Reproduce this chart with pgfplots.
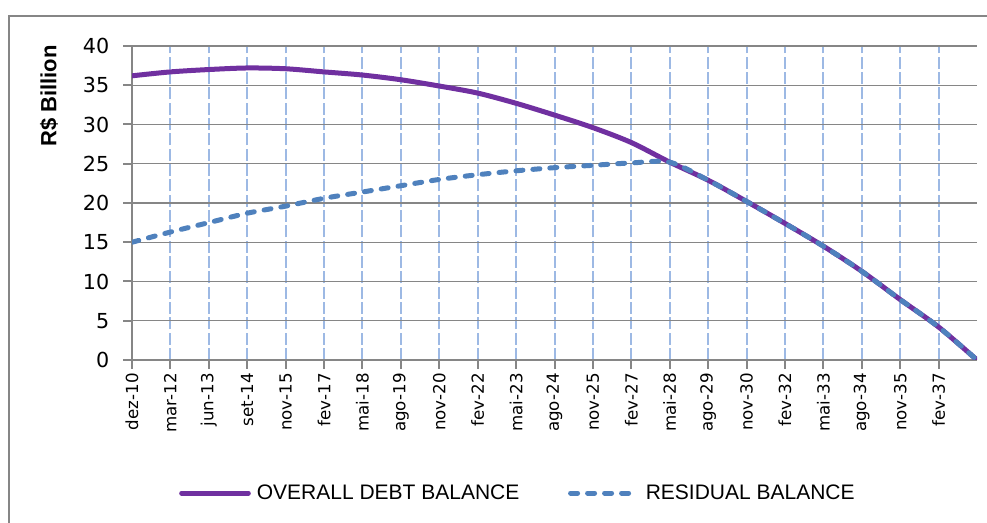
\documentclass[border=0pt]{standalone}
\usepackage{pgfplots}
\pgfplotsset{compat=1.18}
\usepackage{fontspec}
\setmainfont{Liberation Sans}
\newfontfamily\dejavu{DejaVu Sans}
\definecolor{debtpurple}{RGB}{112,48,160}
\definecolor{resblue}{RGB}{79,129,189}
\definecolor{gridblue}{RGB}{157,185,228}
\definecolor{axgray}{RGB}{134,134,134}
\begin{document}
\begin{tikzpicture}
\useasboundingbox (0,0) rectangle (740.25pt,392.25pt);
\draw[axgray, line width=1.5pt] (6.75pt,-5pt) -- (6.75pt,380.25pt) -- (745pt,380.25pt);
\node[rotate=90, font=\bfseries\fontsize{16.5}{19}\selectfont] at (36.75pt,320.25pt) {R\$ Billion};
\begin{axis}[
 at={(99pt,122.25pt)}, anchor=south west,
 scale only axis, width=633.75pt, height=235.5pt,
 xmin=0, xmax=22, ymin=0, ymax=40,
 xtick={0,...,21},
 xticklabels={dez-10,mar-12,jun-13,set-14,nov-15,fev-17,mai-18,ago-19,nov-20,fev-22,mai-23,ago-24,nov-25,fev-27,mai-28,ago-29,nov-30,fev-32,mai-33,ago-34,nov-35,fev-37},
 ytick={0,5,...,40},
 axis x line=bottom, axis y line=left,
 axis line style={axgray, line width=1.5pt, -},
 tick align=outside, major tick length=6.5pt,
 tick style={axgray, line width=1.5pt},
 xmajorgrids, ymajorgrids,
 x grid style={gridblue, line width=1.5pt, dash pattern=on 9pt off 2.5pt},
 y grid style={axgray, line width=1.1pt},
 xticklabel style={rotate=90, anchor=east, font=\dejavu\fontsize{12.5}{14}\selectfont},
 yticklabel style={font=\dejavu\fontsize{15.5}{18}\selectfont, xshift=-7pt},
 /pgf/number format/assume math mode=true,
 legend columns=2,
 legend style={draw=none, fill=none, at={(axis description cs:0.0555,-0.4236)}, anchor=west, inner sep=0pt,
   nodes={inner xsep=4.5pt},
   font=\fontsize{15.75}{18}\selectfont, /tikz/every even column/.append style={column sep=32pt}},
 legend image code/.code={\draw[#1] (0pt,0pt) -- (50pt,0pt);},
]
\addplot[debtpurple, line width=3.75pt, line cap=round, smooth] coordinates {
(0,36.2) (1,36.7) (2,37.0) (3,37.2) (4,37.1) (5,36.7) (6,36.3) (7,35.7) (8,34.9) (9,34.0)
(10,32.7) (11,31.2) (12,29.6) (13,27.7) (14,25.2) (15,22.9) (16,20.2) (17,17.4) (18,14.5)
(19,11.3) (20,7.7) (21,4.2) (22,0)};
\addlegendentry{OVERALL DEBT BALANCE}
\addplot[resblue, line width=3.75pt, line cap=round, dash pattern=on 5.25pt off 7.5pt, smooth] coordinates {
(0,15.0) (1,16.3) (2,17.5) (3,18.7) (4,19.6) (5,20.6) (6,21.4) (7,22.2) (8,23.0) (9,23.6)
(10,24.1) (11,24.5) (12,24.8) (13,25.1) (14,25.2) (15,22.9) (16,20.2) (17,17.4) (18,14.5)
(19,11.3) (20,7.7) (21,4.2) (22,0)};
\addlegendentry{RESIDUAL BALANCE}
\end{axis}
\end{tikzpicture}
\end{document}
